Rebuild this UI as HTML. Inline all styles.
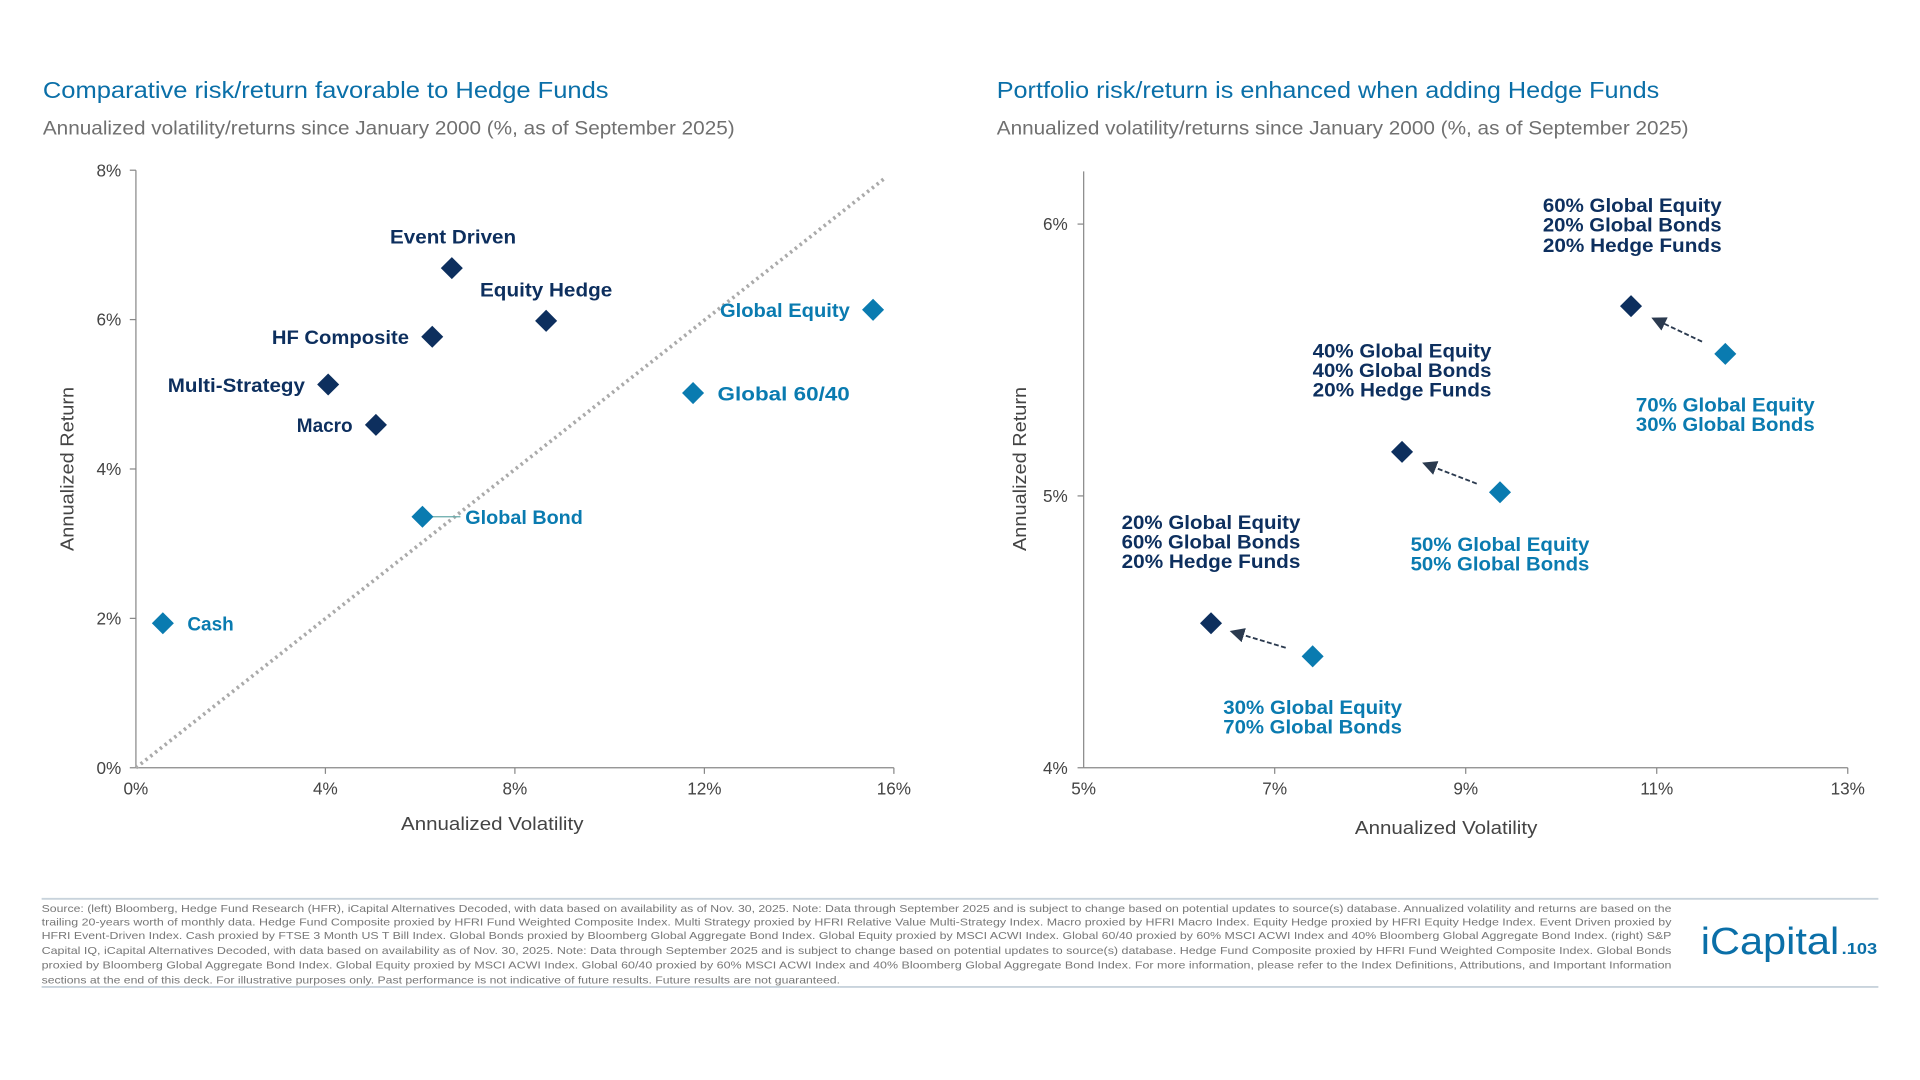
<!DOCTYPE html>
<html><head><meta charset="utf-8"><style>html,body{margin:0;padding:0;background:#fff}svg{display:block}</style></head>
<body>
<svg width="1920" height="1080" viewBox="0 0 1568 882" xmlns="http://www.w3.org/2000/svg" font-family="'Liberation Sans', sans-serif">
<defs>
<marker id="ah" markerWidth="8" markerHeight="8" refX="4" refY="4" orient="auto"><path d="M8,0 L0,4 L8,8 Z" transform="rotate(180 4 4)" fill="#2b3a4f"/></marker>
</defs>
<rect width="1568" height="882" fill="#fff"/>
<!-- LEFT -->
<text x="35" y="80" font-size="19" fill="#0a6fa8" textLength="462" lengthAdjust="spacingAndGlyphs">Comparative risk/return favorable to Hedge Funds</text>
<text x="35" y="110" font-size="15.5" fill="#707070" textLength="565" lengthAdjust="spacingAndGlyphs">Annualized volatility/returns since January 2000 (%, as of September 2025)</text>
<g stroke="#888" stroke-width="1">
<line x1="111" y1="139" x2="111" y2="627"/><line x1="111" y1="627" x2="730" y2="627"/>
<line x1="106" y1="139" x2="111" y2="139"/><line x1="106" y1="261" x2="111" y2="261"/><line x1="106" y1="383" x2="111" y2="383"/><line x1="106" y1="505" x2="111" y2="505"/><line x1="106" y1="627" x2="111" y2="627"/>
<line x1="265.75" y1="627" x2="265.75" y2="632"/><line x1="420.5" y1="627" x2="420.5" y2="632"/><line x1="575.25" y1="627" x2="575.25" y2="632"/><line x1="730" y1="627" x2="730" y2="632"/>
</g>
<g font-size="14" fill="#444" text-anchor="end">
<text x="99" y="144">8%</text><text x="99" y="266">6%</text><text x="99" y="388">4%</text><text x="99" y="510">2%</text><text x="99" y="632">0%</text>
</g>
<g font-size="14" fill="#444" text-anchor="middle">
<text x="111" y="649">0%</text><text x="265.75" y="649">4%</text><text x="420.5" y="649">8%</text><text x="575.25" y="649">12%</text><text x="730" y="649">16%</text>
<text x="402" y="678" font-size="15" textLength="149" lengthAdjust="spacingAndGlyphs">Annualized Volatility</text>
<text transform="translate(60 383) rotate(-90)" font-size="15" textLength="134" lengthAdjust="spacingAndGlyphs">Annualized Return</text>
</g>
<line x1="111" y1="627" x2="722" y2="146" stroke="#aaa" stroke-width="3" stroke-dasharray="2 3"/>
<line x1="345" y1="422" x2="376" y2="422" stroke="#6aa" stroke-width="1"/>
<g fill="#0d2f5e">
<path d="M369 210 L378 219 L369 228 L360 219Z"/>
<path d="M446 253 L455 262 L446 271 L437 262Z"/>
<path d="M353 266 L362 275 L353 284 L344 275Z"/>
<path d="M268 305 L277 314 L268 323 L259 314Z"/>
<path d="M307 338 L316 347 L307 356 L298 347Z"/>
</g>
<g fill="#0a7bb0">
<path d="M713 244 L722 253 L713 262 L704 253Z"/>
<path d="M566 312 L575 321 L566 330 L557 321Z"/>
<path d="M345 413 L354 422 L345 431 L336 422Z"/>
<path d="M133 500 L142 509 L133 518 L124 509Z"/>
</g>
<g font-size="15.5" font-weight="bold" fill="#0d2f5e">
<text x="370" y="199" text-anchor="middle" textLength="103" lengthAdjust="spacingAndGlyphs">Event Driven</text>
<text x="446" y="242" text-anchor="middle" textLength="108" lengthAdjust="spacingAndGlyphs">Equity Hedge</text>
<text x="334" y="281" text-anchor="end" textLength="112" lengthAdjust="spacingAndGlyphs">HF Composite</text>
<text x="249" y="320" text-anchor="end" textLength="112" lengthAdjust="spacingAndGlyphs">Multi-Strategy</text>
<text x="288" y="353" text-anchor="end">Macro</text>
</g>
<g font-size="15.5" font-weight="bold" fill="#0a7bb0">
<text x="694" y="259" text-anchor="end" textLength="106" lengthAdjust="spacingAndGlyphs">Global Equity</text>
<text x="586" y="327" textLength="108" lengthAdjust="spacingAndGlyphs">Global 60/40</text>
<text x="380" y="428" textLength="96" lengthAdjust="spacingAndGlyphs">Global Bond</text>
<text x="153" y="515">Cash</text>
</g>
<!-- RIGHT -->
<text x="814" y="80" font-size="19" fill="#0a6fa8" textLength="541" lengthAdjust="spacingAndGlyphs">Portfolio risk/return is enhanced when adding Hedge Funds</text>
<text x="814" y="110" font-size="15.5" fill="#707070" textLength="565" lengthAdjust="spacingAndGlyphs">Annualized volatility/returns since January 2000 (%, as of September 2025)</text>
<g stroke="#888" stroke-width="1">
<line x1="885" y1="140" x2="885" y2="627"/><line x1="885" y1="627" x2="1509" y2="627"/>
<line x1="880" y1="183" x2="885" y2="183"/><line x1="880" y1="405" x2="885" y2="405"/><line x1="880" y1="627" x2="885" y2="627"/>
<line x1="1041" y1="627" x2="1041" y2="632"/><line x1="1197" y1="627" x2="1197" y2="632"/><line x1="1353" y1="627" x2="1353" y2="632"/><line x1="1509" y1="627" x2="1509" y2="632"/>
</g>
<g font-size="14" fill="#444" text-anchor="end">
<text x="872" y="188">6%</text><text x="872" y="410">5%</text><text x="872" y="632">4%</text>
</g>
<g font-size="14" fill="#444" text-anchor="middle">
<text x="885" y="649">5%</text><text x="1041" y="649">7%</text><text x="1197" y="649">9%</text><text x="1353" y="649">11%</text><text x="1509" y="649">13%</text>
<text x="1181" y="681" font-size="15" textLength="149" lengthAdjust="spacingAndGlyphs">Annualized Volatility</text>
<text transform="translate(838 383) rotate(-90)" font-size="15" textLength="134" lengthAdjust="spacingAndGlyphs">Annualized Return</text>
</g>
<g stroke="#2b3a4f" stroke-width="1.5" stroke-dasharray="4 2" marker-end="url(#ah)">
<line x1="1390" y1="279" x2="1354" y2="262"/>
<line x1="1206" y1="395" x2="1167" y2="380"/>
<line x1="1050" y1="529" x2="1010" y2="517"/>
</g>
<g fill="#0d2f5e">
<path d="M1332 241 L1341 250 L1332 259 L1323 250Z"/>
<path d="M1145 360 L1154 369 L1145 378 L1136 369Z"/>
<path d="M989 500 L998 509 L989 518 L980 509Z"/>
</g>
<g fill="#0a7bb0">
<path d="M1409 280 L1418 289 L1409 298 L1400 289Z"/>
<path d="M1225 393 L1234 402 L1225 411 L1216 402Z"/>
<path d="M1072 527 L1081 536 L1072 545 L1063 536Z"/>
</g>
<g font-size="15.5" font-weight="bold" fill="#0d2f5e" text-anchor="middle">
<text x="1333" y="173" textLength="146" lengthAdjust="spacingAndGlyphs">60% Global Equity</text><text x="1333" y="189" textLength="146" lengthAdjust="spacingAndGlyphs">20% Global Bonds</text><text x="1333" y="206" textLength="146" lengthAdjust="spacingAndGlyphs">20% Hedge Funds</text>
<text x="1145" y="292" textLength="146" lengthAdjust="spacingAndGlyphs">40% Global Equity</text><text x="1145" y="308" textLength="146" lengthAdjust="spacingAndGlyphs">40% Global Bonds</text><text x="1145" y="324" textLength="146" lengthAdjust="spacingAndGlyphs">20% Hedge Funds</text>
<text x="989" y="432" textLength="146" lengthAdjust="spacingAndGlyphs">20% Global Equity</text><text x="989" y="448" textLength="146" lengthAdjust="spacingAndGlyphs">60% Global Bonds</text><text x="989" y="464" textLength="146" lengthAdjust="spacingAndGlyphs">20% Hedge Funds</text>
</g>
<g font-size="15.5" font-weight="bold" fill="#0a7bb0" text-anchor="middle">
<text x="1409" y="336" textLength="146" lengthAdjust="spacingAndGlyphs">70% Global Equity</text><text x="1409" y="352" textLength="146" lengthAdjust="spacingAndGlyphs">30% Global Bonds</text>
<text x="1225" y="450" textLength="146" lengthAdjust="spacingAndGlyphs">50% Global Equity</text><text x="1225" y="466" textLength="146" lengthAdjust="spacingAndGlyphs">50% Global Bonds</text>
<text x="1072" y="583" textLength="146" lengthAdjust="spacingAndGlyphs">30% Global Equity</text><text x="1072" y="599" textLength="146" lengthAdjust="spacingAndGlyphs">70% Global Bonds</text>
</g>
<!-- FOOTER -->
<line x1="34" y1="734" x2="1534" y2="734" stroke="#c8d3dc" stroke-width="1.5"/>
<line x1="34" y1="806" x2="1534" y2="806" stroke="#c8d3dc" stroke-width="1.5"/>
<g font-size="8.5" fill="#777">
<text x="34" y="745" textLength="1331" lengthAdjust="spacingAndGlyphs">Source: (left) Bloomberg, Hedge Fund Research (HFR), iCapital Alternatives Decoded, with data based on availability as of Nov. 30, 2025. Note: Data through September 2025 and is subject to change based on potential updates to source(s) database. Annualized volatility and returns are based on the</text>
<text x="34" y="756" textLength="1331" lengthAdjust="spacingAndGlyphs">trailing 20-years worth of monthly data. Hedge Fund Composite proxied by HFRI Fund Weighted Composite Index. Multi Strategy proxied by HFRI Relative Value Multi-Strategy Index. Macro proxied by HFRI Macro Index. Equity Hedge proxied by HFRI Equity Hedge Index. Event Driven proxied by</text>
<text x="34" y="767" textLength="1331" lengthAdjust="spacingAndGlyphs">HFRI Event-Driven Index. Cash proxied by FTSE 3 Month US T Bill Index. Global Bonds proxied by Bloomberg Global Aggregate Bond Index. Global Equity proxied by MSCI ACWI Index. Global 60/40 proxied by 60% MSCI ACWI Index and 40% Bloomberg Global Aggregate Bond Index. (right) S&amp;P</text>
<text x="34" y="779" textLength="1331" lengthAdjust="spacingAndGlyphs">Capital IQ, iCapital Alternatives Decoded, with data based on availability as of Nov. 30, 2025. Note: Data through September 2025 and is subject to change based on potential updates to source(s) database. Hedge Fund Composite proxied by HFRI Fund Weighted Composite Index. Global Bonds</text>
<text x="34" y="791" textLength="1331" lengthAdjust="spacingAndGlyphs">proxied by Bloomberg Global Aggregate Bond Index. Global Equity proxied by MSCI ACWI Index. Global 60/40 proxied by 60% MSCI ACWI Index and 40% Bloomberg Global Aggregate Bond Index. For more information, please refer to the Index Definitions, Attributions, and Important Information</text>
<text x="34" y="803" textLength="652" lengthAdjust="spacingAndGlyphs">sections at the end of this deck. For illustrative purposes only. Past performance is not indicative of future results. Future results are not guaranteed.</text>
</g>
<text x="1389" y="779" font-family="'Liberation Sans Narrow', 'Liberation Sans', sans-serif" font-size="31" fill="#0a6fa8" textLength="113" lengthAdjust="spacingAndGlyphs">iCapital</text>
<text x="1504" y="779" font-size="13" font-weight="bold" fill="#0a6fa8" textLength="29" lengthAdjust="spacingAndGlyphs">.103</text>
</svg>
</body></html>
